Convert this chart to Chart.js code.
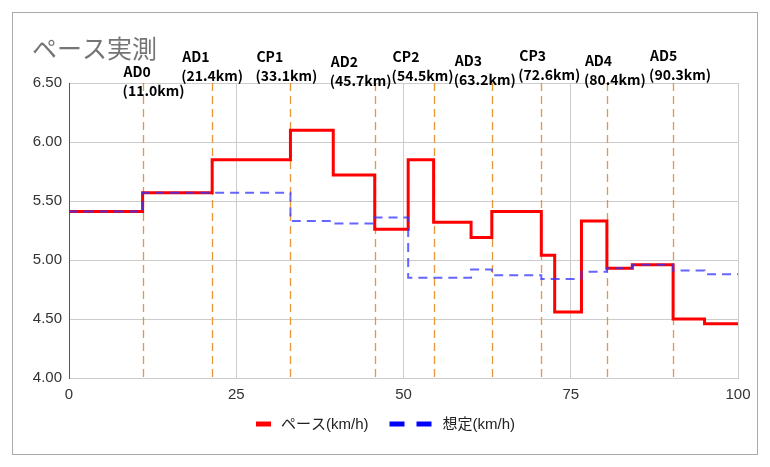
<!DOCTYPE html>
<html>
<head>
<meta charset="utf-8">
<script src="https://cdn.jsdelivr.net/npm/chart.js@4/dist/chart.umd.min.js"></script>
<style>
html, body { margin: 0; padding: 0; background: #fff; }
</style>
</head>
<body>
<canvas id="paceChart" width="770" height="467"></canvas>
<script>
'use strict';

// 区間の開始km (最後の100は終点)
const sectionKm  = [0, 11.0, 21.4, 33.1, 39.5, 45.7, 50.7, 54.5, 60.1, 63.2, 70.6, 72.6, 76.6, 80.4, 84.2, 90.3, 95.0, 100];
const paceValues = [5.41, 5.57, 5.85, 6.10, 5.72, 5.26, 5.85, 5.32, 5.19, 5.41, 5.04, 4.56, 5.33, 4.93, 4.96, 4.50, 4.46, 4.46];
const planValues = [5.41, 5.57, 5.57, 5.33, 5.31, 5.36, 4.85, 4.85, 4.92, 4.87, 4.84, 4.84, 4.90, 4.93, 4.96, 4.91, 4.88, 4.88];

// エイド・関門
const pointNames  = ['AD0', 'AD1', 'CP1', 'AD2', 'CP2', 'AD3', 'CP3', 'AD4', 'AD5'];
const pointKmText = ['11.0', '21.4', '33.1', '45.7', '54.5', '63.2', '72.6', '80.4', '90.3'];
const pointLineKm = [11.0, 21.4, 33.1, 45.7, 54.5, 63.2, 70.6, 80.4, 90.3];

const xTicks = [0, 25, 50, 75, 100];
const yTicks = [4.0, 4.5, 5.0, 5.5, 6.0, 6.5];

// label placement: [x offset from line, baseline of first row]
const labelPos = [[-19, 77], [-30, 62], [-34, 62], [-44, 67], [-41, 62], [-37, 66], [-22, 61], [-22, 66], [-23, 61]];

const tickFont = { family: '"Liberation Sans", Arial, sans-serif', size: 15 };

const decor = {
    id: 'decor',
    beforeDraw(chart){
        const c = chart.ctx;
        c.save();
        c.strokeStyle = '#aaa';
        c.lineWidth = 1;
        c.strokeRect(12.5, 12.5, 745, 442);
        c.fillStyle = '#757575';
        c.font = '25px "Noto Sans CJK JP"';
        c.textBaseline = 'alphabetic';
        c.fillText('ペース実測', 32, 58);
        c.restore();
    },
    beforeDatasetsDraw(chart){
        const c = chart.ctx, a = chart.chartArea, x = chart.scales.x;
        c.save();
        c.strokeStyle = 'rgba(230,140,40,0.9)';
        c.lineWidth = 1.3;
        c.setLineDash([8, 5]);
        pointLineKm.forEach(km => {
            const px = Math.round(x.getPixelForValue(km)) + 0.5;
            c.beginPath();
            c.moveTo(px, a.top);
            c.lineTo(px, a.bottom);
            c.stroke();
        });
        c.restore();
    },
    afterDraw(chart){
        const c = chart.ctx, x = chart.scales.x;
        c.save();
        // point labels
        c.fillStyle = '#000';
        c.font = 'bold 14px "Noto Sans CJK JP"';
        c.textBaseline = 'alphabetic';
        pointNames.forEach((name, i) => {
            const px = x.getPixelForValue(pointLineKm[i]) + labelPos[i][0];
            c.fillText(name, px, labelPos[i][1]);
            c.fillText('(' + pointKmText[i] + 'km)', px - 1, labelPos[i][1] + 19);
        });

        // legend
        c.font = '15px "Liberation Sans", "Noto Sans CJK JP"';
        c.textBaseline = 'middle';
        const ds = chart.data.datasets;
        const w1 = c.measureText(ds[0].label).width,
              w2 = c.measureText(ds[1].label).width;
        const total = 15 + 10 + w1 + 21 + 42 + 11 + w2;
        let lx = 385.5 - total / 2;
        const ly = 424;
        c.fillStyle = '#ff0000';
        c.fillRect(lx, ly - 2.5, 15, 5);
        lx += 25;
        c.fillStyle = '#222';
        c.fillText(ds[0].label, lx, ly + 1);
        lx += w1 + 21;
        c.fillStyle = '#0000ff';
        c.fillRect(lx, ly - 2.5, 15, 5);
        c.fillRect(lx + 27, ly - 2.5, 15, 5);
        lx += 42 + 11;
        c.fillStyle = '#222';
        c.fillText(ds[1].label, lx, ly + 1);
        c.restore();
    }
};

const ctx = document.querySelector('#paceChart').getContext('2d');

const paceChart = new Chart(ctx, {
    type: 'line',
    data: {
        datasets: [{
            label: 'ペース(km/h)',
            data: sectionKm.map((km, i) => ({ x: km, y: paceValues[i] })),
            borderColor: 'rgb(255,0,0)',
            borderWidth: 3,
            stepped: 'before',
            pointRadius: 0,
            fill: false,
            order: 1
        }, {
            label: '想定(km/h)',
            data: sectionKm.map((km, i) => ({ x: km, y: planValues[i] })),
            borderColor: 'rgba(50,50,255,0.75)',
            borderWidth: 2,
            borderDash: [9, 6],
            stepped: 'before',
            pointRadius: 0,
            fill: false,
            order: 0
        }]
    },
    options: {
        responsive: false,
        animation: false,
        devicePixelRatio: 1,
        layout: { padding: { left: 13, right: 32, top: 83, bottom: 59 } },
        plugins: {
            legend: { display: false },
            tooltip: { enabled: false },
            title: { display: false }
        },
        scales: {
            x: {
                type: 'linear',
                min: 0,
                max: 100,
                afterBuildTicks: s => { s.ticks = xTicks.map(v => ({ value: v })); },
                afterFit: s => { s.height = 30; },
                ticks: { font: tickFont, color: '#333', padding: 8, maxRotation: 0 },
                grid: { color: '#ccc', drawTicks: false },
                border: { color: '#ccc' }
            },
            y: {
                min: 4,
                max: 6.5,
                afterBuildTicks: s => { s.ticks = yTicks.map(v => ({ value: v })); },
                afterFit: s => { s.width = 56; },
                ticks: { font: tickFont, color: '#333', padding: 7, callback: v => v.toFixed(2) },
                grid: { color: '#ccc', drawTicks: false },
                border: { color: '#555' }
            }
        }
    },
    plugins: [decor]
});
</script>
</body>
</html>
